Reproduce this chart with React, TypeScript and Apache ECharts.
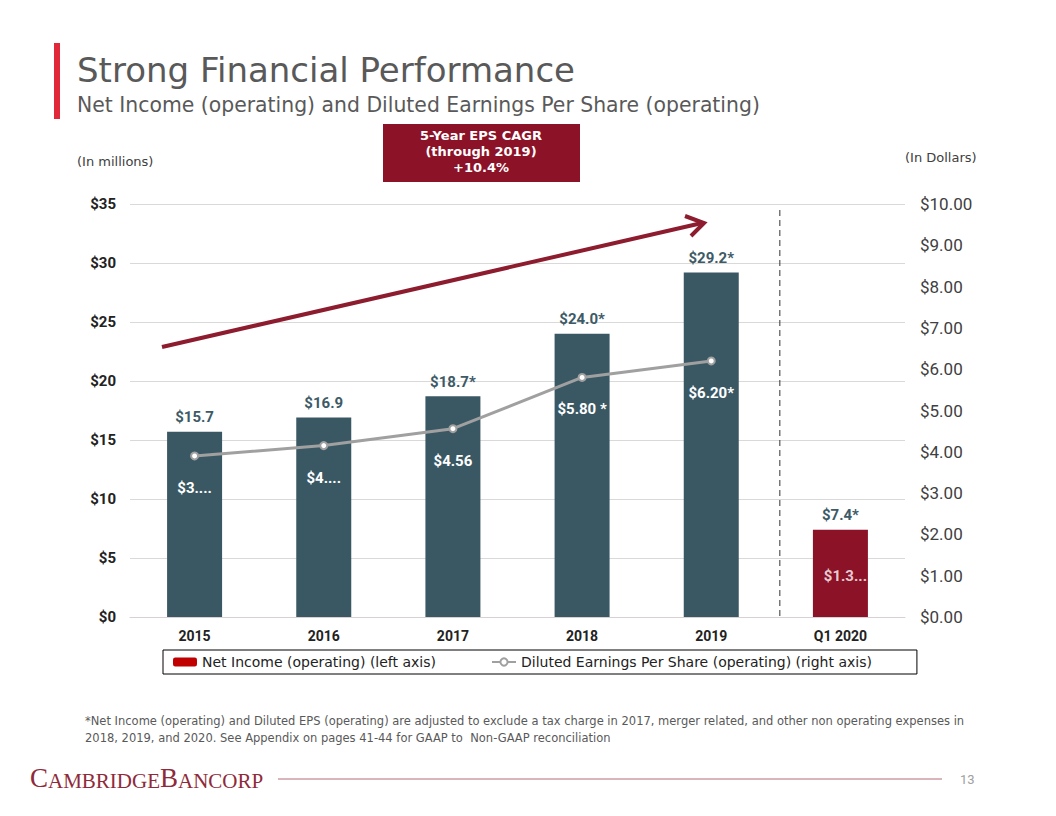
import React, { useEffect, useRef } from "react";
import * as echarts from "echarts";

const categories = ["2015", "2016", "2017", "2018", "2019", "Q1 2020"];
const netIncome = [15.7, 16.9, 18.7, 24.0, 29.2, 7.4];
const netIncomeLabels = ["$15.7", "$16.9", "$18.7*", "$24.0*", "$29.2*", "$7.4*"];
const barColors = ["#3a5864", "#3a5864", "#3a5864", "#3a5864", "#3a5864", "#8c1228"];
const eps = [3.9, 4.15, 4.56, 5.8, 6.2, null];
const epsLabels = ["$3....", "$4....", "$4.56", "$5.80 *", "$6.20*", ""];
const q1Eps = [null, null, null, null, null, 1.36];
const q1EpsLabel = "$1.3...";
const footnoteLines = [
  "*Net Income (operating) and Diluted EPS (operating) are adjusted to exclude a tax charge in 2017, merger related, and other non operating expenses in",
  "2018, 2019, and 2020. See Appendix on pages 41-44 for GAAP to  Non-GAAP reconciliation",
];
const cagrLines = ["5-Year EPS CAGR", "(through 2019)", "+10.4%"];

const FONT = "Roboto, 'Noto Sans', sans-serif";
const WIDE = "'DejaVu Sans', Roboto, sans-serif";
const SERIF = "'Liberation Serif', 'DejaVu Serif', serif";

export default function App() {
  const ref = useRef<HTMLDivElement>(null);
  useEffect(() => {
    document.body.style.margin = "0";
    const chart = echarts.init(ref.current!, null, { renderer: "svg" });
    chart.setOption({
      animation: false,
      textStyle: { fontFamily: FONT },
      grid: { left: 130, right: 151, top: 204, bottom: 199 },
      legend: {
        data: [
          "Net Income (operating) (left axis)",
          "Diluted Earnings Per Share (operating) (right axis)",
        ],
        left: 163,
        top: 650,
        padding: [5, 45, 5, 10],
        borderColor: "#000",
        borderWidth: 1,
        itemGap: 55,
        itemWidth: 24,
        itemHeight: 9,
        textStyle: { fontFamily: WIDE, fontSize: 14, color: "#222" },
      },
      xAxis: {
        type: "category",
        data: categories,
        axisTick: { show: false },
        axisLine: { lineStyle: { color: "#d9d0d4" } },
        axisLabel: { fontFamily: FONT, fontWeight: "bold", fontSize: 14, color: "#222", margin: 12 },
      },
      yAxis: [
        {
          type: "value",
          min: 0,
          max: 35,
          interval: 5,
          axisLine: { show: false },
          axisTick: { show: false },
          splitLine: { lineStyle: { color: "#d9d9d9" } },
          axisLabel: {
            fontFamily: FONT,
            fontWeight: "bold",
            fontSize: 15,
            color: "#222",
            margin: 14,
            formatter: (v: number) => "$" + v,
          },
        },
        {
          type: "value",
          min: 0,
          max: 10,
          interval: 1,
          position: "right",
          axisLine: { show: false },
          axisTick: { show: false },
          splitLine: { show: false },
          axisLabel: {
            fontFamily: FONT,
            fontSize: 17,
            color: "#404040",
            margin: 15,
            formatter: (v: number) => "$" + v.toFixed(2),
          },
        },
      ],
      series: [
        {
          name: "Net Income (operating) (left axis)",
          type: "bar",
          barWidth: 55,
          itemStyle: { color: "#c00000" },
          data: netIncome.map((v, i) => ({ value: v, itemStyle: { color: barColors[i] } })),
          label: {
            show: true,
            position: "top",
            distance: 7,
            fontFamily: FONT,
            fontWeight: "bold",
            fontSize: 15,
            color: "#3d5a66",
            formatter: (p: any) => netIncomeLabels[p.dataIndex],
          },
          z: 2,
        },
        {
          name: "Diluted Earnings Per Share (operating) (right axis)",
          type: "line",
          yAxisIndex: 1,
          data: eps,
          symbol: "emptyCircle",
          symbolSize: 7,
          lineStyle: { color: "#a0a0a0", width: 3 },
          itemStyle: { color: "#a0a0a0", borderWidth: 1.5 },
          label: {
            show: true,
            position: "bottom",
            distance: 20,
            fontFamily: FONT,
            fontWeight: "bold",
            fontSize: 15,
            color: "#ffffff",
            formatter: (p: any) => epsLabels[p.dataIndex],
          },
          z: 3,
        },
        {
          name: "Q1 EPS",
          type: "scatter",
          yAxisIndex: 1,
          data: q1Eps,
          symbolSize: 0,
          label: {
            show: true,
            position: "bottom",
            distance: 8,
            offset: [5, 0],
            fontFamily: FONT,
            fontWeight: "bold",
            fontSize: 15,
            color: "#ffffff",
            formatter: () => q1EpsLabel,
          },
          z: 3,
        },
      ],
    });

    const x4 = chart.convertToPixel({ xAxisIndex: 0 }, categories[4]) as number;
    const x5 = chart.convertToPixel({ xAxisIndex: 0 }, categories[5]) as number;
    const xDash = (x4 + x5) / 2 + 4;
    const yBottom = chart.convertToPixel({ yAxisIndex: 0 }, 0) as number;

    chart.setOption({
      graphic: [
        { type: "rect", shape: { x: 54, y: 43, width: 6, height: 76 }, style: { fill: "#e0283a" } },
        {
          type: "text",
          x: 77,
          y: 70,
          style: { text: "Strong Financial Performance", font: `34px ${WIDE}`, fill: "#595959", verticalAlign: "middle" },
        },
        {
          type: "text",
          x: 77,
          y: 105,
          style: {
            text: "Net Income (operating) and Diluted Earnings Per Share (operating)",
            font: `20.4px ${WIDE}`,
            fill: "#595959",
            verticalAlign: "middle",
          },
        },
        { type: "rect", shape: { x: 383, y: 124, width: 197, height: 58 }, style: { fill: "#8c1228" } },
        ...cagrLines.map((t, i) => ({
          type: "text",
          x: 481,
          y: 135 + i * 16,
          style: { text: t, font: `bold 13px ${WIDE}`, fill: "#ffffff", align: "center", verticalAlign: "middle" },
        })),
        {
          type: "text",
          x: 77,
          y: 161,
          style: { text: "(In millions)", font: `13px ${WIDE}`, fill: "#404040", verticalAlign: "middle" },
        },
        {
          type: "text",
          x: 905,
          y: 157,
          style: { text: "(In Dollars)", font: `13px ${WIDE}`, fill: "#404040", verticalAlign: "middle" },
        },
        {
          type: "line",
          shape: { x1: xDash, y1: 210, x2: xDash, y2: yBottom },
          style: { stroke: "#333", lineWidth: 1, lineDash: [6, 4] },
          z: 10,
        },
        {
          type: "line",
          shape: { x1: 162, y1: 347, x2: 702, y2: 223 },
          style: { stroke: "#8c1c2e", lineWidth: 4 },
          z: 10,
        },
        {
          type: "polyline",
          shape: { points: [[685, 216], [704, 223], [691, 236]] },
          style: { stroke: "#8c1c2e", lineWidth: 4, fill: null },
          z: 10,
        },
        ...footnoteLines.map((t, i) => ({
          type: "text",
          x: 85,
          y: 721 + i * 17,
          style: { text: t, font: `11.5px ${WIDE}`, fill: "#595959", verticalAlign: "middle" },
        })),
        {
          type: "text",
          x: 30,
          y: 778,
          style: {
            text: "{b|C}{s|AMBRIDGE}{b|B}{s|ANCORP}",
            verticalAlign: "middle",
            rich: {
              b: { fontFamily: SERIF, fontSize: 27, fill: "#8e2a3a", verticalAlign: "bottom" },
              s: { fontFamily: SERIF, fontSize: 21, fill: "#8e2a3a", verticalAlign: "bottom" },
            },
          },
        },
        {
          type: "line",
          shape: { x1: 278, y1: 779, x2: 942, y2: 779 },
          style: { stroke: "#b46a78", lineWidth: 1 },
        },
        {
          type: "text",
          x: 960,
          y: 779,
          style: { text: "13", font: `13px ${FONT}`, fill: "#a0a0a0", verticalAlign: "middle" },
        },
      ],
    });
    return () => chart.dispose();
  }, []);
  return <div ref={ref} style={{ position: "absolute", left: 0, top: 0, width: 1056, height: 816 }} />;
}
